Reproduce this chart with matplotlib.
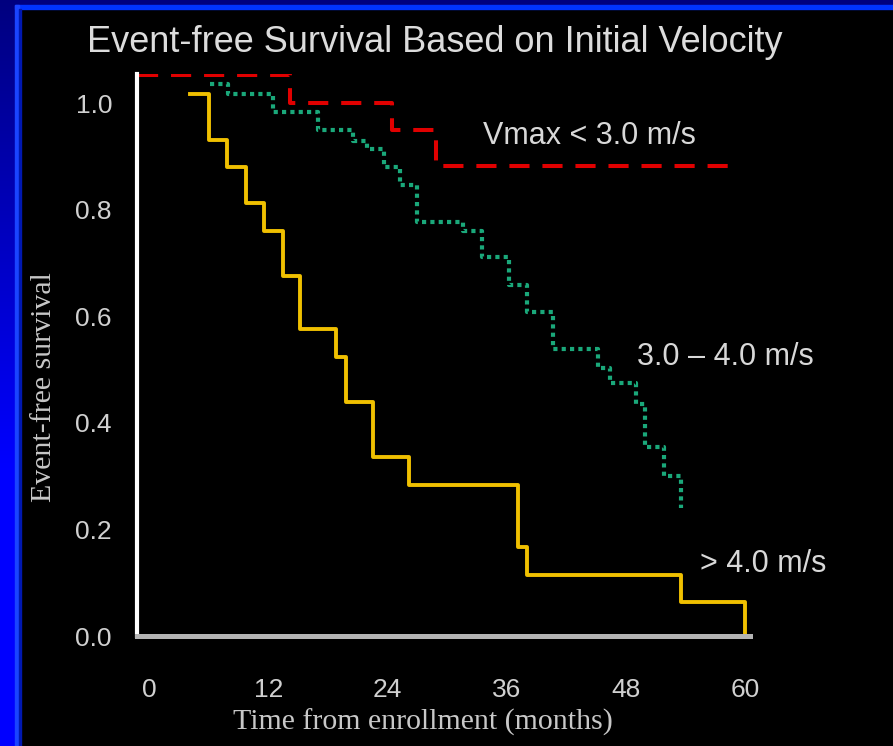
import numpy as np
import matplotlib
matplotlib.use('Agg')
import matplotlib.pyplot as plt
from matplotlib.patches import Rectangle

# Kaplan-Meier style step data (time in months, survival)
low_t = [-1.2, 14.1, 24.4, 28.9, 59.5]
low_s = [1.053, 1.0, 0.949, 0.882, 0.882]

mid_t = [6.1, 7.9, 12.4, 17.0, 20.5, 21.9, 23.6, 25.2, 26.9, 31.6,
         33.5, 36.2, 38.0, 40.7, 45.2, 46.4, 49.0, 49.9, 51.8, 53.6]
mid_s = [1.036, 1.018, 0.984, 0.949, 0.930, 0.915, 0.880, 0.846, 0.777, 0.761,
         0.711, 0.658, 0.608, 0.539, 0.504, 0.474, 0.435, 0.354, 0.301, 0.241]

high_t = [4.1, 6.0, 7.8, 9.7, 11.5, 13.4, 15.2, 18.8, 19.8, 22.5,
          26.1, 37.1, 38.0, 53.6, 60.0]
high_s = [1.018, 0.932, 0.880, 0.813, 0.761, 0.675, 0.576, 0.524, 0.439, 0.336,
          0.284, 0.168, 0.115, 0.0645, 0.0]

x_ticks = [0, 12, 24, 36, 48, 60]
y_ticks = [0.0, 0.2, 0.4, 0.6, 0.8, 1.0]

labels = ['Vmax < 3.0 m/s', '3.0 \u2013 4.0 m/s', '> 4.0 m/s']
label_pos = [(33.6, 0.938), (49.1, 0.524), (55.5, 0.135)]

W, H = 893, 746
sans = 'Liberation Sans'
fig = plt.figure(figsize=(W / 100, H / 100), dpi=100, facecolor='black')

# blue frame on top and left (slide background)
grad = fig.add_axes([0, 0, 15 / W, 1])
g = np.linspace(0, 1, 256).reshape(-1, 1)
top_c = np.array([0.0, 0.0, 0.5])
bot_c = np.array([0.0, 0.0, 1.0])
img = top_c + (bot_c - top_c) * np.clip(g * 1.6, 0, 1)[:, :, None]
grad.imshow(img, aspect='auto', origin='upper')
grad.axis('off')
fig.patches.append(Rectangle((15 / W, 1 - 5 / H), 1, 5 / H, transform=fig.transFigure,
                             color='#000080', zorder=0))
fig.patches.append(Rectangle((15 / W, 1 - 9 / H), 1, 4 / H, transform=fig.transFigure,
                             color='#0033ff', zorder=1))
fig.patches.append(Rectangle((15 / W, 0), 4 / W, 1 - 5 / H, transform=fig.transFigure,
                             color='#1a44ff', zorder=1))
fig.patches.append(Rectangle((19 / W, 0), 2 / W, 1 - 9 / H, transform=fig.transFigure,
                             color='#0018b0', zorder=1))

ax = fig.add_axes([137 / W, 1 - 636 / H, (750 - 137) / W, (636 - 74) / H])
ax.set_facecolor('black')

ax.step(low_t, low_s, where='post', color='#e00000', lw=2.9, dashes=(5, 3.2))
ax.step(mid_t, mid_s, where='post', color='#1aa87a', lw=3.0, dashes=(1, 1))
ax.step(high_t, high_s, where='post', color='#f0c000', lw=2.8)

ax.set_xlim(-1.28, 60.52)
ax.set_ylim(0, 1.055)

for side in ['top', 'right']:
    ax.spines[side].set_visible(False)
ax.spines['left'].set_color('white')
ax.spines['left'].set_linewidth(3)
ax.spines['bottom'].set_color('#b4b4b4')
ax.spines['bottom'].set_linewidth(3.6)

ax.set_xticks(x_ticks)
ax.set_xticklabels([str(t) for t in x_ticks])
ax.set_yticks(y_ticks)
ax.set_yticklabels([f'{v:.1f}' for v in y_ticks])
ax.tick_params(axis='both', length=0, colors='#d0d0d0', labelsize=19)
ax.tick_params(axis='x', pad=30)
ax.tick_params(axis='y', pad=18)
for lab in ax.get_xticklabels() + ax.get_yticklabels():
    lab.set_family(sans)

for txt, (tx, ty) in zip(labels, label_pos):
    ax.text(tx, ty, txt, color='#d8d8d8', fontsize=22, family=sans,
            ha='left', va='center')

fig.text(435 / W, 1 - 42 / H, 'Event-free Survival Based on Initial Velocity',
         color='#dcdcdc', fontsize=26, family=sans, ha='center', va='center')
fig.text(423 / W, 1 - 722 / H, 'Time from enrollment (months)', color='#c8c8c8',
         fontsize=21.5, family='Liberation Serif', ha='center', va='center')
fig.text(44 / W, 1 - 387 / H, 'Event-free survival', color='#c8c8c8', rotation=90,
         fontsize=21.5, family='Liberation Serif', ha='center', va='center')

fig.savefig('out.png', dpi=100, facecolor='black')
